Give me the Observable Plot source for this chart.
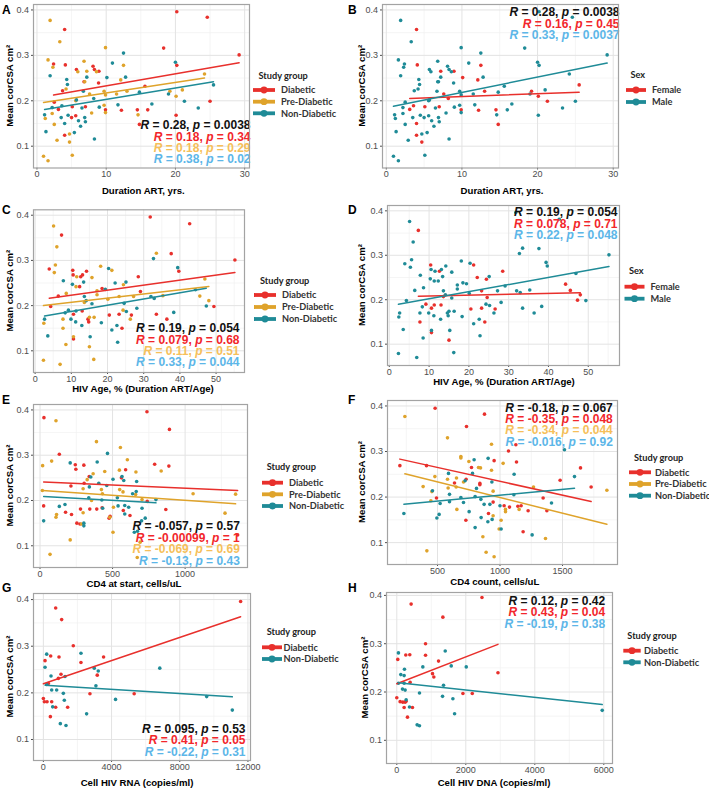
<!DOCTYPE html>
<html><head><meta charset="utf-8">
<script src="https://cdn.jsdelivr.net/npm/d3@7"></script>
<script src="https://cdn.jsdelivr.net/npm/@observablehq/plot@0.6"></script>
<style>
body{margin:0;background:#fff;}
#fig{position:relative;width:709px;height:789px;overflow:hidden;background:#fff;}
</style></head><body><div id="fig"></div>
<script>
// ---------- DATA ----------
// Duration on ART (yrs) vs mean corCSA, [x, y, sex]
const durDiabetic = [[20.2,0.396,"M"],[24.6,0.384,"M"],[4.0,0.357,"F"],[29.2,0.301,"M"],[18.3,0.316,"M"],[2.4,0.281,"M"],[4.1,0.279,"F"],[5.7,0.269,"M"],[8.1,0.276,"M"],[8.3,0.269,"M"],[8.95,0.265,"F"],[20.2,0.278,"M"],[6.8,0.242,"M"],[8.9,0.239,"M"],[3.7,0.222,"M"],[2.5,0.197,"M"],[3.1,0.181,"F"],[15.6,0.232,"M"],[7.0,0.187,"F"],[5.0,0.163,"M"],[5.6,0.167,"M"],[9.9,0.180,"F"],[12.2,0.179,"F"],[14.5,0.180,"F"],[16.0,0.180,"M"],[14.8,0.148,"F"],[4.0,0.124,"F"],[25.0,0.199,"M"],[20.1,0.168,"M"],[5.1,0.187,"F"]];
const durPre = [[1.9,0.377,"M"],[3.3,0.330,"M"],[9.9,0.317,"M"],[1.6,0.290,"M"],[6.8,0.287,"M"],[2.3,0.274,"M"],[12.5,0.278,"F"],[5.9,0.264,"M"],[7.2,0.265,"F"],[8.6,0.264,"M"],[6.9,0.242,"M"],[12.1,0.246,"F"],[4.2,0.226,"M"],[24.2,0.259,"M"],[9.7,0.221,"M"],[9.9,0.213,"M"],[11.5,0.215,"M"],[13.0,0.221,"F"],[7.6,0.215,"F"],[19.2,0.221,"F"],[21.0,0.224,"M"],[20.1,0.210,"F"],[5.6,0.200,"M"],[2.2,0.172,"M"],[9.7,0.190,"M"],[9.9,0.174,"M"],[14.6,0.169,"M"],[7.9,0.173,"M"],[1.2,0.161,"M"],[2.5,0.148,"M"],[4.7,0.127,"M"],[2.9,0.113,"M"],[4.7,0.109,"F"],[5.1,0.080,"M"],[0.95,0.078,"M"],[1.6,0.068,"M"]];
const durNon = [[12.5,0.305,"M"],[20.0,0.285,"M"],[10.9,0.283,"M"],[1.9,0.255,"M"],[10.1,0.251,"F"],[12.8,0.252,"M"],[7.2,0.252,"M"],[4.3,0.247,"M"],[4.4,0.236,"M"],[6.7,0.221,"M"],[14.8,0.219,"M"],[25.5,0.235,"F"],[19.0,0.215,"M"],[2.2,0.185,"M"],[3.6,0.189,"F"],[5.7,0.202,"M"],[6.5,0.184,"M"],[8.2,0.205,"F"],[9.0,0.186,"M"],[11.7,0.191,"M"],[16.6,0.193,"M"],[21.3,0.199,"F"],[23.3,0.184,"M"],[1.1,0.169,"M"],[4.5,0.168,"M"],[3.5,0.163,"M"],[6.0,0.156,"M"],[6.9,0.163,"M"],[7.0,0.154,"M"],[6.3,0.144,"M"],[4.0,0.150,"F"],[1.3,0.132,"M"],[5.4,0.130,"M"],[8.3,0.116,"M"]];
// fitted lines [series, x1, y1, x2, y2]
const fitDurGroup = [["Diabetic",2.4,0.2126,29.2,0.2837],["Pre-Diabetic",0.95,0.1963,24.2,0.250],["Non-Diabetic",1.1,0.181,25.5,0.242]];
const fitDurSex = [["Female",3.1,0.205,25.5,0.219],["Male",0.95,0.188,29.2,0.283]];

// HIV age % (Duration ART / Age) vs mean corCSA, [x, y, sex]
const hivDiabetic = [[31.8,0.396,"M"],[42.7,0.381,"M"],[7.3,0.356,"F"],[55.2,0.301,"M"],[37.6,0.315,"M"],[3.9,0.281,"M"],[10.4,0.278,"F"],[10.5,0.268,"M"],[12.6,0.264,"F"],[13.1,0.268,"M"],[14.2,0.276,"M"],[39.7,0.276,"M"],[28.5,0.264,"F"],[18.5,0.238,"M"],[6.4,0.221,"M"],[12.3,0.242,"M"],[4.3,0.198,"M"],[10.6,0.181,"F"],[13.0,0.188,"F"],[14.6,0.170,"M"],[14.8,0.164,"M"],[20.5,0.179,"F"],[23.2,0.181,"F"],[26.6,0.179,"F"],[33.5,0.181,"M"],[29.1,0.231,"M"],[24.0,0.150,"F"],[36.4,0.170,"M"],[10.6,0.126,"F"],[49.4,0.198,"M"]];
const hivPre = [[5.1,0.376,"M"],[6.0,0.330,"M"],[33.5,0.316,"M"],[5.6,0.290,"M"],[18.1,0.287,"M"],[5.3,0.273,"M"],[21.2,0.278,"F"],[11.5,0.264,"M"],[15.7,0.262,"M"],[46.9,0.259,"M"],[8.6,0.227,"M"],[11.3,0.242,"M"],[24.4,0.246,"F"],[17.1,0.224,"M"],[20.1,0.214,"M"],[23.2,0.220,"F"],[27.2,0.220,"M"],[17.1,0.233,"M"],[48.0,0.211,"F"],[45.5,0.221,"F"],[35.3,0.222,"M"],[13.6,0.207,"F"],[24.3,0.190,"M"],[2.4,0.161,"M"],[7.7,0.170,"M"],[7.7,0.150,"F"],[15.0,0.174,"M"],[16.3,0.174,"M"],[26.3,0.170,"M"],[8.5,0.114,"M"],[10.6,0.131,"M"],[15.0,0.109,"F"],[16.2,0.081,"M"],[2.3,0.079,"M"],[6.9,0.070,"M"]];
const hivNon = [[32.7,0.304,"M"],[39.4,0.284,"M"],[20.3,0.282,"M"],[7.8,0.255,"M"],[13.4,0.252,"M"],[10.3,0.247,"M"],[22.1,0.250,"F"],[25.1,0.252,"M"],[13.6,0.220,"M"],[19.4,0.236,"M"],[32.0,0.220,"M"],[32.9,0.216,"M"],[14.1,0.211,"M"],[15.7,0.204,"M"],[24.6,0.205,"F"],[28.1,0.194,"M"],[44.3,0.235,"F"],[47.3,0.199,"F"],[2.6,0.170,"M"],[9.2,0.190,"F"],[11.3,0.188,"F"],[8.3,0.184,"M"],[11.2,0.164,"M"],[9.9,0.170,"M"],[12.9,0.156,"M"],[18.3,0.162,"M"],[22.6,0.156,"M"],[25.2,0.187,"M"],[38.3,0.185,"M"],[21.2,0.146,"M"],[3.5,0.133,"M"],[15.2,0.131,"M"],[22.8,0.119,"M"]];
const fitHivGroup = [["Diabetic",3.9,0.2163,55.2,0.2733],["Pre-Diabetic",2.3,0.200,48.0,0.2422],["Non-Diabetic",2.6,0.177,47.3,0.2385]];
const fitHivSex = [["Female",7.3,0.208,48.0,0.2156],["Male",2.3,0.1896,55.2,0.2748]];

// CD4 at start (cells/uL) vs mean corCSA, [x, y]
const cd4sDiabetic = [[27,0.383],[737,0.396],[133,0.302],[892,0.357],[790,0.280],[888,0.276],[243,0.279],[247,0.269],[302,0.278],[339,0.253],[561,0.250],[590,0.268],[213,0.232],[304,0.238],[25,0.188],[176,0.174],[217,0.169],[279,0.181],[343,0.181],[391,0.181],[428,0.184],[483,0.165],[476,0.161],[574,0.178],[620,0.167],[739,0.198],[867,0.180],[254,0.150],[275,0.148],[1362,0.124]];
const cd4sPre = [[110,0.376],[389,0.330],[554,0.317],[80,0.287],[18,0.277],[602,0.290],[366,0.259],[325,0.246],[446,0.264],[547,0.267],[661,0.263],[835,0.265],[297,0.226],[423,0.224],[430,0.215],[549,0.224],[572,0.219],[659,0.213],[1055,0.215],[1348,0.214],[16,0.222],[114,0.169],[110,0.163],[297,0.173],[286,0.148],[506,0.185],[481,0.163],[503,0.130],[355,0.200],[703,0.202],[1275,0.172],[208,0.113],[69,0.081],[670,0.074],[690,0.108]];
const cd4sNon = [[465,0.304],[394,0.285],[208,0.283],[565,0.253],[577,0.244],[503,0.247],[405,0.238],[350,0.252],[666,0.242],[336,0.206],[426,0.201],[533,0.206],[638,0.215],[663,0.220],[799,0.202],[172,0.191],[133,0.187],[584,0.189],[611,0.185],[538,0.188],[584,0.170],[432,0.183],[703,0.183],[25,0.155],[302,0.150],[302,0.144],[700,0.155],[725,0.161],[650,0.130],[672,0.132],[340,0.230],[460,0.233]];
const fitCd4s = [["Diabetic",25,0.2407,1362,0.2222],["Pre-Diabetic",16,0.2222,1348,0.1926],["Non-Diabetic",25,0.2089,799,0.1948]];

// CD4 count (cells/uL) vs mean corCSA, [x, y]
const cd4cDiabetic = [[481,0.395],[876,0.382],[732,0.355],[199,0.269],[412,0.269],[1068,0.301],[1127,0.315],[1132,0.277],[953,0.280],[772,0.265],[729,0.239],[636,0.231],[839,0.230],[839,0.227],[945,0.189],[492,0.198],[1033,0.181],[1076,0.178],[1143,0.180],[1169,0.181],[1225,0.170],[908,0.164],[727,0.149],[1185,0.124],[1345,0.198],[1375,0.170],[1481,0.237],[1644,0.264],[1729,0.222]];
const cd4cPre = [[239,0.377],[580,0.330],[932,0.316],[687,0.289],[687,0.286],[751,0.278],[828,0.265],[844,0.264],[932,0.259],[1025,0.274],[479,0.245],[652,0.242],[708,0.233],[649,0.222],[585,0.220],[385,0.223],[455,0.212],[447,0.192],[655,0.173],[945,0.213],[945,0.159],[1044,0.173],[1044,0.168],[1153,0.173],[1268,0.222],[1009,0.149],[993,0.130],[863,0.113],[1364,0.109],[415,0.082],[889,0.079],[953,0.069],[1855,0.215],[580,0.239]];
const cd4cNon = [[1516,0.304],[793,0.282],[905,0.285],[588,0.252],[780,0.252],[721,0.236],[1113,0.250],[1596,0.245],[935,0.233],[812,0.219],[596,0.206],[687,0.199],[801,0.201],[847,0.195],[919,0.184],[873,0.184],[708,0.188],[596,0.190],[521,0.186],[460,0.214],[231,0.164],[513,0.162],[495,0.154],[753,0.168],[849,0.155],[903,0.146],[937,0.151],[801,0.133],[1009,0.130],[1257,0.117],[1111,0.205],[1412,0.187],[1000,0.181]];
const fitCd4c = [["Diabetic",199,0.2833,1729,0.1902],["Pre-Diabetic",239,0.2511,1855,0.1403],["Non-Diabetic",231,0.1843,1596,0.2196]];

// Cell HIV RNA (copies/ml) vs mean corCSA, [x, y]
const rnaDiabetic = [[11571,0.396],[722,0.382],[1073,0.357],[1756,0.301],[98,0.269],[429,0.279],[917,0.277],[2205,0.265],[3532,0.277],[1034,0.240],[3161,0.238],[293,0.220],[0,0.188],[59,0.181],[215,0.181],[488,0.181],[722,0.169],[1424,0.169],[410,0.149],[2732,0.198],[5327,0.198],[878,0.231]];
const rnaNon = [[195,0.283],[98,0.255],[2205,0.285],[449,0.236],[1268,0.235],[2985,0.253],[3220,0.247],[3083,0.215],[6829,0.253],[195,0.218],[488,0.206],[780,0.206],[1171,0.199],[1229,0.184],[546,0.170],[2537,0.155],[4234,0.186],[9580,0.192],[11083,0.163],[995,0.134],[1327,0.130]];
const fitRna = [["Diabetic",0,0.2195,11571,0.3633],["Non-Diabetic",98,0.2165,11083,0.1914]];

// Cell HIV DNA (copies/ml) vs mean corCSA, [x, y]
const dnaDiabetic = [[2469,0.3955],[416,0.382],[1336,0.355],[833,0.300],[29,0.2675],[261,0.2765],[377,0.277],[833,0.276],[1210,0.264],[1036,0.238],[1074,0.231],[387,0.220],[2933,0.240],[0,0.188],[97,0.180],[174,0.179],[242,0.179],[271,0.181],[213,0.168],[455,0.168],[310,0.148],[1917,0.197],[2188,0.197]];
const dnaNon = [[48,0.281],[1404,0.285],[116,0.236],[223,0.247],[213,0.234],[755,0.252],[1578,0.254],[2014,0.252],[1355,0.214],[213,0.218],[165,0.206],[242,0.204],[658,0.198],[1326,0.191],[1626,0.186],[271,0.184],[368,0.169],[1675,0.155],[590,0.132],[658,0.130],[5954,0.162],[48,0.218]];
const fitDna = [["Diabetic",0,0.217,2933,0.2986],["Non-Diabetic",48,0.219,5954,0.174]];

// correlation labels
const statsA = ["R = 0.28, p = 0.0038","R = 0.18, p = 0.34","R = 0.18, p = 0.29","R = 0.38, p = 0.02"];
const statsB = ["R = 0.28, p = 0.0038","R = 0.16, p = 0.45","R = 0.33, p = 0.0037"];
const statsC = ["R = 0.19, p = 0.054","R = 0.079, p = 0.68","R = 0.11, p = 0.51","R = 0.33, p = 0.044"];
const statsD = ["R = 0.19, p = 0.054","R = 0.078, p = 0.71","R = 0.22, p = 0.048"];
const statsE = ["R = -0.057, p = 0.57","R = -0.00099, p = 1","R = -0.069, p = 0.69","R = -0.13, p = 0.43"];
const statsF = ["R = -0.18, p = 0.067","R = -0.35, p = 0.048","R = -0.34, p = 0.044","R = -0.016, p = 0.92"];
const statsG = ["R = 0.095, p = 0.53","R = 0.41, p = 0.05","R = -0.22, p = 0.31"];
const statsH = ["R = 0.12, p = 0.42","R = 0.43, p = 0.04","R = -0.19, p = 0.38"];

// categories, ticks, labels
const groups3 = ["Diabetic","Pre-Diabetic","Non-Diabetic"];
const groups2 = ["Diabetic","Non-Diabetic"];
const sexes = ["Female","Male"];
const yTicks = [0.1,0.2,0.3,0.4];
const yMinor = [0.15,0.25,0.35];
const yTitle = "Mean corCSA cm\u00B2";

// ---------- STYLE ----------
const FONT = "'Liberation Sans', Arial, Helvetica, sans-serif";
const LEGFONT = "Lato, 'Open Sans', sans-serif";
const colRed = "#E8302C", colGold = "#DFA32B", colTeal = "#1F8B97";
const statBlack = "#111111", statRed = "#F2262B", statGold = "#F6BF5A", statBlue = "#5CB6E8";

// ---------- HELPERS ----------
const toPts = (arr, g) => arr.map(d => ({x: d[0], y: d[1], g}));
const toPtsSex = (arrs) => arrs.flat().map(d => ({x: d[0], y: d[1], g: d[2] === "F" ? "Female" : "Male"}));
const toFit = fits => fits.flatMap(([g, x1, y1, x2, y2]) => [{g, x: x1, y: y1}, {g, x: x2, y: y2}]);

const fig = document.getElementById("fig");

function makePanel(c) {
  const [fx0, fx1, fy0, fy1] = c.frame;
  const marks = [
    Plot.ruleX(c.xMinor, {stroke: "#f1f1f1", strokeWidth: 0.7}),
    Plot.ruleY(yMinor, {stroke: "#f1f1f1", strokeWidth: 0.7}),
    Plot.ruleX(c.xTicks, {stroke: "#e3e3e3", strokeWidth: 1}),
    Plot.ruleY(yTicks, {stroke: "#e3e3e3", strokeWidth: 1}),
    Plot.dot(c.points, {x: "x", y: "y", fill: "g", r: 1.8}),
    Plot.line(c.fits, {x: "x", y: "y", z: "g", stroke: "g", strokeWidth: 1.5}),
    ...c.stats.map((s, i) => Plot.text([s], {
      text: d => d, frameAnchor: "top-right", textAnchor: "end", lineAnchor: "middle",
      dx: c.statRight - fx1, dy: c.statYs[i] - fy0,
      fill: c.statColors[i], fontSize: 12, fontWeight: "bold", fontFamily: FONT
    })),
    Plot.frame({stroke: "#a3a3a3", strokeWidth: 1.2})
  ];
  const svg = Plot.plot({
    width: c.w, height: c.h,
    marginLeft: fx0 - c.ox, marginRight: c.ox + c.w - fx1,
    marginTop: fy0 - c.oy, marginBottom: c.oy + c.h - fy1,
    style: {background: "none", overflow: "visible", fontFamily: FONT, fontSize: "9px", color: "#4d4d4d"},
    x: {domain: c.xDomain, ticks: c.xTicks, tickFormat: d => String(d), tickSize: 2, tickPadding: 0.8, label: null},
    y: {domain: c.yDomain, ticks: yTicks, tickFormat: d3.format(".1f"), tickSize: 2, tickPadding: 2.5, label: null},
    color: {domain: c.groups, range: c.colors},
    marks
  });
  svg.style.position = "absolute";
  svg.style.left = c.ox + "px";
  svg.style.top = c.oy + "px";

  // italic R and p in correlation labels
  svg.querySelectorAll("text").forEach(t => {
    const s = t.textContent;
    if (!s.startsWith("R = ")) return;
    t.textContent = "";
    s.split(/(R|p)(?= =)/).forEach(part => {
      if (!part) return;
      const ts = document.createElementNS("http://www.w3.org/2000/svg", "tspan");
      ts.textContent = part;
      if (part === "R" || part === "p") ts.setAttribute("font-style", "italic");
      t.appendChild(ts);
    });
  });

  const g = d3.select(svg).append("g").attr("transform", `translate(${-c.ox},${-c.oy})`).attr("text-anchor", "start");
  // panel letter
  g.append("text").attr("x", c.letter[0]).attr("y", c.letter[1]).attr("dy", "0.35em").attr("text-anchor", "start")
    .attr("font-family", FONT).attr("font-size", 12).attr("font-weight", "bold").attr("fill", "#000").text(c.letterText);
  // axis titles
  g.append("text").attr("x", c.xTitlePos[0]).attr("y", c.xTitlePos[1]).attr("dy", "0.35em").attr("text-anchor", "middle")
    .attr("font-family", FONT).attr("font-size", 9.6).attr("font-weight", "bold").attr("fill", "#000").text(c.xTitle);
  g.append("text").attr("transform", `translate(${c.yTitleX},${(fy0 + fy1) / 2}) rotate(-90)`).attr("dy", "0.35em")
    .attr("text-anchor", "middle").attr("font-family", FONT).attr("font-size", 9.6).attr("font-weight", "bold")
    .attr("fill", "#000").text(yTitle);
  // legend
  const L = c.legend;
  g.append("text").attr("x", L.titleX).attr("y", L.titleY).attr("dy", "0.35em").attr("text-anchor", "start")
    .attr("font-family", LEGFONT).attr("font-size", 9.2).attr("font-weight", "bold").attr("fill", "#222").text(c.legendTitle);
  c.groups.forEach((name, i) => {
    const y = L.itemYs[i];
    g.append("line").attr("x1", L.key0).attr("x2", L.key1).attr("y1", y).attr("y2", y)
      .attr("stroke", c.colors[i]).attr("stroke-width", 3.8);
    g.append("circle").attr("cx", (L.key0 + L.key1) / 2).attr("cy", y).attr("r", 3.4).attr("fill", c.colors[i]);
    g.append("text").attr("x", L.textX).attr("y", y).attr("dy", "0.35em").attr("text-anchor", "start")
      .attr("font-family", LEGFONT).attr("font-size", 9.2).attr("font-weight", "bold").attr("fill", "#333").text(name);
  });
  fig.appendChild(svg);
}

const stat4 = [statBlack, statRed, statGold, statBlue];
const stat3 = [statBlack, statRed, statBlue];
const col3 = [colRed, colGold, colTeal];
const col2 = [colRed, colTeal];
const durX = {xDomain: [-0.5, 30.7], xTicks: [0, 10, 20, 30], xMinor: [5, 15, 25]};
const hivX = {xDomain: [-0.45, 57.85], xTicks: [0, 10, 20, 30, 40, 50], xMinor: [5, 15, 25, 35, 45, 55]};
const yAll = [0.052, 0.412];

makePanel({letterText: "A", ox: 0, oy: 0, w: 354, h: 197, frame: [33, 249, 4, 167.5], letter: [2, 10],
  ...durX, yDomain: yAll, groups: groups3, colors: col3,
  points: [...toPts(durDiabetic, "Diabetic"), ...toPts(durPre, "Pre-Diabetic"), ...toPts(durNon, "Non-Diabetic")],
  fits: toFit(fitDurGroup), stats: statsA, statColors: stat4, statRight: 250, statYs: [125, 136.3, 147.6, 159],
  xTitle: "Duration ART, yrs.", xTitlePos: [143.3, 190.7], yTitleX: 10,
  legendTitle: "Study group", legend: {titleX: 258.5, titleY: 76, key0: 253, key1: 275, textX: 281, itemYs: [90, 101.7, 113.3]}});

makePanel({letterText: "B", ox: 354, oy: 0, w: 355, h: 197, frame: [382, 618, 4, 167.5], letter: [348, 10],
  ...durX, yDomain: yAll, groups: sexes, colors: col2,
  points: toPtsSex([durDiabetic, durPre, durNon]),
  fits: toFit(fitDurSex), stats: statsB, statColors: stat3, statRight: 619, statYs: [12, 23.3, 34.5],
  xTitle: "Duration ART, yrs.", xTitlePos: [502, 190.7], yTitleX: 362,
  legendTitle: "Sex", legend: {titleX: 630.5, titleY: 75, key0: 626, key1: 646, textX: 652, itemYs: [90, 102]}});

makePanel({letterText: "C", ox: 0, oy: 197, w: 354, h: 196, frame: [33, 244, 209.3, 372], letter: [2, 209.3],
  ...hivX, yDomain: yAll, groups: groups3, colors: col3,
  points: [...toPts(hivDiabetic, "Diabetic"), ...toPts(hivPre, "Pre-Diabetic"), ...toPts(hivNon, "Non-Diabetic")],
  fits: toFit(fitHivGroup), stats: statsC, statColors: stat4, statRight: 239, statYs: [328, 339.3, 350.7, 362],
  xTitle: "HIV Age, % (Duration ART/Age)", xTitlePos: [143, 388.2], yTitleX: 10,
  legendTitle: "Study group", legend: {titleX: 260, titleY: 281, key0: 254, key1: 276, textX: 282, itemYs: [295, 307, 319]}});

makePanel({letterText: "D", ox: 354, oy: 197, w: 355, h: 196, frame: [387, 619, 205, 365], letter: [348, 209.3],
  ...hivX, yDomain: yAll, groups: sexes, colors: col2,
  points: toPtsSex([hivDiabetic, hivPre, hivNon]),
  fits: toFit(fitHivSex), stats: statsD, statColors: stat3, statRight: 617, statYs: [212, 223.7, 235],
  xTitle: "HIV Age, % (Duration ART/Age)", xTitlePos: [504, 381.7], yTitleX: 362,
  legendTitle: "Sex", legend: {titleX: 629, titleY: 271, key0: 624.5, key1: 644.5, textX: 650.5, itemYs: [286.7, 298.7]}});

makePanel({letterText: "E", ox: 0, oy: 393, w: 354, h: 195, frame: [33, 247, 404, 567], letter: [2, 400],
  xDomain: [-45, 1430], xTicks: [0, 500, 1000], xMinor: [250, 750, 1250], yDomain: yAll, groups: groups3, colors: col3,
  points: [...toPts(cd4sDiabetic, "Diabetic"), ...toPts(cd4sPre, "Pre-Diabetic"), ...toPts(cd4sNon, "Non-Diabetic")],
  fits: toFit(fitCd4s), stats: statsE, statColors: stat4, statRight: 239.3, statYs: [525.7, 537.5, 549, 560.7],
  xTitle: "CD4 at start, cells/uL", xTitlePos: [134, 584], yTitleX: 10,
  legendTitle: "Study group", legend: {titleX: 266.7, titleY: 467, key0: 262, key1: 283, textX: 289, itemYs: [482.7, 494.3, 506]}});

makePanel({letterText: "F", ox: 354, oy: 393, w: 355, h: 195, frame: [387, 617, 400, 564], letter: [348, 400],
  xDomain: [100, 1940], xTicks: [500, 1000, 1500], xMinor: [250, 750, 1250, 1750], yDomain: yAll, groups: groups3, colors: col3,
  points: [...toPts(cd4cDiabetic, "Diabetic"), ...toPts(cd4cPre, "Pre-Diabetic"), ...toPts(cd4cNon, "Non-Diabetic")],
  fits: toFit(fitCd4c), stats: statsF, statColors: stat4, statRight: 612.3, statYs: [407.3, 418.5, 430, 441.3],
  xTitle: "CD4 count, cells/uL", xTitlePos: [494.8, 581.7], yTitleX: 362,
  legendTitle: "Study group", legend: {titleX: 634, titleY: 457.3, key0: 629, key1: 651, textX: 655, itemYs: [472.3, 484, 495.7]}});

makePanel({letterText: "G", ox: 0, oy: 588, w: 354, h: 201, frame: [33, 250, 593, 760], letter: [2, 588],
  xDomain: [-579, 12150], xTicks: [0, 4000, 8000, 12000], xMinor: [2000, 6000, 10000], yDomain: [0.055, 0.413], groups: groups2, colors: col2,
  points: [...toPts(rnaDiabetic, "Diabetic"), ...toPts(rnaNon, "Non-Diabetic")],
  fits: toFit(fitRna), stats: statsG, statColors: stat3, statRight: 245, statYs: [728.3, 740, 751.3],
  xTitle: "Cell HIV RNA (copies/ml)", xTitlePos: [137, 782.7], yTitleX: 10,
  legendTitle: "Study group", legend: {titleX: 266.7, titleY: 631.7, key0: 262, key1: 282, textX: 283.5, itemYs: [647.3, 659]}});

makePanel({letterText: "H", ox: 354, oy: 588, w: 355, h: 201, frame: [386, 612, 592, 763], letter: [348, 588],
  xDomain: [-298, 6252], xTicks: [0, 2000, 4000, 6000], xMinor: [1000, 3000, 5000], yDomain: [0.052, 0.406], groups: groups2, colors: col2,
  points: [...toPts(dnaDiabetic, "Diabetic"), ...toPts(dnaNon, "Non-Diabetic")],
  fits: toFit(fitDna), stats: statsH, statColors: stat3, statRight: 604.7, statYs: [600.7, 611.7, 623.3],
  xTitle: "Cell HIV DNA (copies/ml)", xTitlePos: [494, 782.7], yTitleX: 365,
  legendTitle: "Study group", legend: {titleX: 627.3, titleY: 636, key0: 623.3, key1: 640.7, textX: 644, itemYs: [650.7, 662.3]}});
</script></body></html>
